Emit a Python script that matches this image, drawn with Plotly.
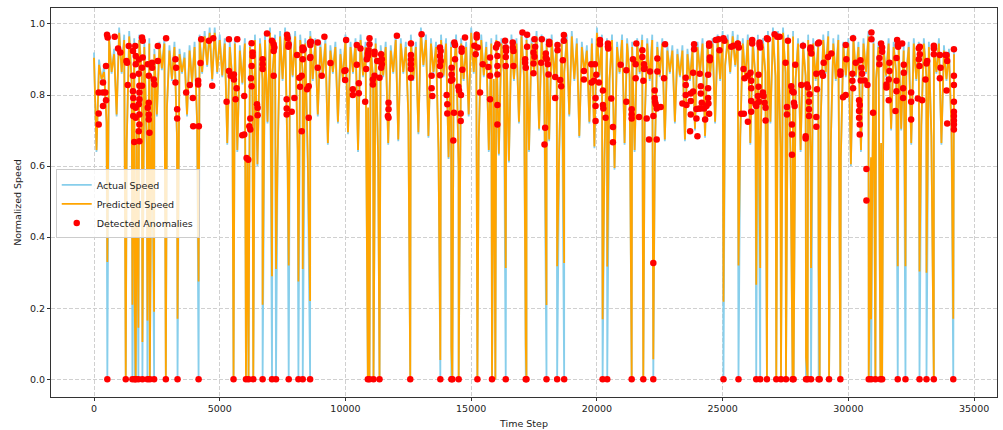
import plotly.graph_objects as go

# ---------------- data ----------------
sample_step = 100  # time steps between the sampled readings below

actual_speed = [
    0.92, 0.64, 0.90, 0.84, 0.88, 0.72, 0.97, 0.86, 0.93, 0.74,
    0.99, 0.86, 0.97, 0.66, 0.98, 0.83, 0.96, 0.70, 0.97, 0.85,
    0.95, 0.66, 0.96, 0.85, 0.93, 0.74, 0.95, 0.87, 0.96, 0.76,
    0.94, 0.84, 0.95, 0.68, 0.93, 0.86, 0.92, 0.74, 0.94, 0.83,
    0.95, 0.72, 0.97, 0.86, 0.98, 0.88, 0.99, 0.84, 0.99, 0.86,
    0.97, 0.85, 0.96, 0.66, 0.95, 0.84, 0.96, 0.64, 0.94, 0.83,
    0.96, 0.62, 0.95, 0.85, 0.97, 0.60, 0.96, 0.84, 0.97, 0.72,
    0.99, 0.86, 0.97, 0.61, 0.98, 0.84, 0.99, 0.60, 0.97, 0.85,
    0.98, 0.64, 0.97, 0.86, 0.96, 0.62, 0.98, 0.84, 0.96, 0.74,
    0.95, 0.85, 0.96, 0.66, 0.94, 0.86, 0.95, 0.72, 0.93, 0.84,
    0.97, 0.69, 0.95, 0.86, 0.96, 0.64, 0.97, 0.85, 0.95, 0.76,
    0.95, 0.84, 0.96, 0.62, 0.94, 0.85, 0.95, 0.66, 0.94, 0.86,
    0.97, 0.67, 0.96, 0.86, 0.95, 0.74, 0.97, 0.84, 0.95, 0.69,
    0.99, 0.88, 0.97, 0.68, 0.96, 0.86, 0.95, 0.64, 0.97, 0.85,
    0.96, 0.62, 0.95, 0.85, 0.97, 0.59, 0.96, 0.84, 0.95, 0.74,
    0.99, 0.86, 0.98, 0.67, 0.97, 0.85, 0.95, 0.64, 0.96, 0.84,
    0.97, 0.63, 0.96, 0.86, 0.95, 0.61, 0.97, 0.84, 0.96, 0.72,
    0.98, 0.85, 0.97, 0.64, 0.96, 0.86, 0.98, 0.70, 0.97, 0.84,
    0.96, 0.67, 0.97, 0.85, 0.95, 0.64, 0.96, 0.86, 0.97, 0.74,
    0.98, 0.84, 0.96, 0.68, 0.95, 0.86, 0.94, 0.72, 0.96, 0.65,
    0.99, 0.85, 0.97, 0.62, 0.96, 0.84, 0.97, 0.59, 0.95, 0.86,
    0.97, 0.66, 0.96, 0.85, 0.95, 0.64, 0.96, 0.86, 0.97, 0.72,
    0.96, 0.84, 0.97, 0.62, 0.95, 0.85, 0.96, 0.67, 0.94, 0.86,
    0.94, 0.72, 0.93, 0.85, 0.94, 0.67, 0.93, 0.84, 0.94, 0.70,
    0.95, 0.86, 0.96, 0.68, 0.95, 0.85, 0.96, 0.72, 0.97, 0.84,
    0.98, 0.88, 0.97, 0.86, 0.98, 0.88, 0.97, 0.68, 0.96, 0.84,
    0.97, 0.66, 0.96, 0.85, 0.97, 0.64, 0.96, 0.86, 0.98, 0.72,
    0.99, 0.85, 0.98, 0.65, 0.99, 0.86, 0.97, 0.63, 0.98, 0.84,
    0.96, 0.64, 0.95, 0.85, 0.97, 0.61, 0.96, 0.84, 0.95, 0.73,
    0.97, 0.86, 0.98, 0.66, 0.96, 0.84, 0.97, 0.62, 0.95, 0.85,
    0.96, 0.60, 0.97, 0.85, 0.95, 0.64, 0.96, 0.86, 0.98, 0.62,
    0.96, 0.84, 0.95, 0.66, 0.94, 0.85, 0.96, 0.70, 0.95, 0.86,
    0.95, 0.70, 0.94, 0.85, 0.95, 0.66, 0.96, 0.84, 0.95, 0.71,
    0.96, 0.85, 0.95, 0.68, 0.94, 0.86, 0.96, 0.66, 0.94, 0.84,
    0.93, 0.70, 0.93,
]

predicted_speed = [
    0.905, 0.645, 0.885, 0.845, 0.865, 0.725, 0.955, 0.865, 0.915, 0.745,
    0.975, 0.865, 0.955, 0.665, 0.965, 0.835, 0.945, 0.705, 0.955, 0.855,
    0.935, 0.665, 0.945, 0.855, 0.915, 0.745, 0.935, 0.875, 0.945, 0.765,
    0.925, 0.845, 0.935, 0.685, 0.915, 0.865, 0.905, 0.745, 0.925, 0.835,
    0.935, 0.725, 0.955, 0.865, 0.965, 0.885, 0.975, 0.845, 0.975, 0.865,
    0.955, 0.855, 0.945, 0.665, 0.935, 0.845, 0.945, 0.645, 0.925, 0.835,
    0.945, 0.625, 0.935, 0.855, 0.955, 0.605, 0.945, 0.845, 0.955, 0.725,
    0.975, 0.865, 0.955, 0.615, 0.965, 0.845, 0.975, 0.605, 0.955, 0.855,
    0.965, 0.645, 0.955, 0.865, 0.945, 0.625, 0.965, 0.845, 0.945, 0.745,
    0.935, 0.855, 0.945, 0.665, 0.925, 0.865, 0.935, 0.725, 0.915, 0.845,
    0.955, 0.695, 0.935, 0.865, 0.945, 0.645, 0.955, 0.855, 0.935, 0.765,
    0.935, 0.845, 0.945, 0.625, 0.925, 0.855, 0.935, 0.665, 0.925, 0.865,
    0.955, 0.675, 0.945, 0.865, 0.935, 0.745, 0.955, 0.845, 0.935, 0.695,
    0.975, 0.885, 0.955, 0.685, 0.945, 0.865, 0.935, 0.645, 0.955, 0.855,
    0.945, 0.625, 0.935, 0.855, 0.955, 0.595, 0.945, 0.845, 0.935, 0.745,
    0.975, 0.865, 0.965, 0.675, 0.955, 0.855, 0.935, 0.645, 0.945, 0.845,
    0.955, 0.635, 0.945, 0.865, 0.935, 0.615, 0.955, 0.845, 0.945, 0.725,
    0.965, 0.855, 0.955, 0.645, 0.945, 0.865, 0.965, 0.705, 0.955, 0.845,
    0.945, 0.675, 0.955, 0.855, 0.935, 0.645, 0.945, 0.865, 0.955, 0.745,
    0.965, 0.845, 0.945, 0.685, 0.935, 0.865, 0.925, 0.725, 0.945, 0.655,
    0.975, 0.855, 0.955, 0.625, 0.945, 0.845, 0.955, 0.595, 0.935, 0.865,
    0.955, 0.665, 0.945, 0.855, 0.935, 0.645, 0.945, 0.865, 0.955, 0.725,
    0.945, 0.845, 0.955, 0.625, 0.935, 0.855, 0.945, 0.675, 0.925, 0.865,
    0.925, 0.725, 0.915, 0.855, 0.925, 0.675, 0.915, 0.845, 0.925, 0.705,
    0.935, 0.865, 0.945, 0.685, 0.935, 0.855, 0.945, 0.725, 0.955, 0.845,
    0.965, 0.885, 0.955, 0.865, 0.965, 0.885, 0.955, 0.685, 0.945, 0.845,
    0.955, 0.665, 0.945, 0.855, 0.955, 0.645, 0.945, 0.865, 0.965, 0.725,
    0.975, 0.855, 0.965, 0.655, 0.975, 0.865, 0.955, 0.635, 0.965, 0.845,
    0.945, 0.645, 0.935, 0.855, 0.955, 0.615, 0.945, 0.845, 0.935, 0.735,
    0.955, 0.865, 0.965, 0.665, 0.945, 0.845, 0.955, 0.625, 0.935, 0.855,
    0.945, 0.605, 0.955, 0.855, 0.935, 0.645, 0.945, 0.865, 0.965, 0.625,
    0.945, 0.845, 0.935, 0.665, 0.925, 0.855, 0.945, 0.705, 0.935, 0.865,
    0.935, 0.705, 0.925, 0.855, 0.935, 0.665, 0.945, 0.845, 0.935, 0.715,
    0.945, 0.855, 0.935, 0.685, 0.925, 0.865, 0.945, 0.665, 0.925, 0.845,
    0.915, 0.705, 0.915,
]

# moments where the actual speed falls to zero, and the prediction there
drop_steps = [
    530, 1263, 1527, 1622, 1660, 1766, 1925, 2124, 2220, 2390, 2857, 3322, 4159,
    5549, 6043, 6147, 6334, 6705, 7079, 7238, 7743, 8129, 8301, 8594,
    10890, 10956, 11115, 11354, 12577, 13773, 14211, 14251, 14502, 15247, 15828,
    15962, 16374, 17170, 17198, 17995, 18418, 18697, 20226, 20410, 21382, 21844,
    22242, 25032, 25630, 26335, 26494, 26761, 27132, 27319, 27518, 27781, 27821,
    28315, 28379, 28514, 28817, 28857, 29231, 29681, 30809, 30904, 31075, 31274,
    31342, 31963, 32270, 32828, 33106, 33397, 34171,
]
drop_predicted = [
    0.33, 0.0, 0.21, 0.19, 0.0, 0.145, 0.105, 0.165, 0.0, 0.19, 0.0, 0.17, 0.275,
    0.0, 0.0, 0.0, 0.0, 0.21, 0.29, 0.31, 0.32, 0.275, 0.31, 0.22,
    0.0, 0.0, 0.0, 0.0, 0.0, 0.054, 0.09, 0.0, 0.0, 0.0, 0.0,
    0.0, 0.313, 0.096, 0.0, 0.209, 0.318, 0.327, 0.169, 0.317, 0.0, 0.0,
    0.056, 0.218, 0.32, 0.266, 0.313, 0.0, 0.0, 0.0, 0.0, 0.0, 0.0,
    0.061, 0.0, 0.313, 0.315, 0.0, 0.0, 0.0, 0.0, 0.169, 0.0, 0.0,
    0.0, 0.318, 0.318, 0.303, 0.30, 0.0, 0.17,
]

zero_anomaly_steps = [
    530, 1263, 1527, 1622, 1660, 1766, 1925, 2124, 2220, 2390, 2857, 3322, 4159,
    5549, 6043, 6147, 6334, 6705, 7079, 7238, 7743, 8129, 8301, 8594,
    10890, 10956, 11115, 11354, 12577, 13773, 14211, 14251, 14502, 15247, 15828,
    16374, 17170, 17198, 17995, 18418, 18697, 20226, 20410, 21382, 21844,
    22242, 25032, 25630, 26335, 26494, 26761, 27132, 27319, 27518, 27781, 27821,
    28315, 28379, 28514, 28817, 28857, 29231, 29681, 30809, 30904, 31075, 31274,
    31342, 31963, 32270, 32828, 33106, 33397, 34171,
]

anomaly_points = [
    (186, 0.807), (186, 0.748), (186, 0.717), (358, 0.835), (358, 0.807), (358, 0.769),
    (451, 0.807), (478, 0.785), (478, 0.882), (518, 0.97), (545, 0.962), (823, 0.964),
    (956, 0.931), (1049, 0.92), (1290, 0.896), (1315, 0.891), (1381, 0.938), (1341, 0.828),
    (1550, 0.924), (1550, 0.854), (1550, 0.811), (1560, 0.792), (1560, 0.769), (1560, 0.741),
    (1600, 0.668), (1640, 0.938), (1660, 0.91), (1660, 0.887), (1660, 0.764), (1660, 0.736),
    (1780, 0.9), (1780, 0.86), (1805, 0.826), (1805, 0.807), (1805, 0.788), (1780, 0.774),
    (1805, 0.745), (1805, 0.717), (1780, 0.698), (1805, 0.67), (1910, 0.962), (1937, 0.953),
    (1937, 0.906), (1910, 0.877), (1910, 0.826), (2138, 0.887), (2178, 0.854), (2178, 0.778),
    (2138, 0.764), (2178, 0.745), (2178, 0.731), (2205, 0.694), (2310, 0.891), (2310, 0.877),
    (2377, 0.844), (2403, 0.83), (2537, 0.938), (2537, 0.896), (2868, 0.96), (3240, 0.901),
    (3267, 0.877), (3240, 0.835), (3307, 0.76), (3307, 0.734), (3665, 0.807), (3811, 0.828),
    (3931, 0.792), (3944, 0.712), (4170, 0.712), (4143, 0.83), (4143, 0.84), (4236, 0.89),
    (4263, 0.957), (4568, 0.953), (4741, 0.96), (4701, 0.826), (5365, 0.957), (5697, 0.957),
    (5365, 0.868), (5431, 0.854), (5564, 0.858), (5564, 0.844), (5670, 0.819), (5630, 0.788),
    (5272, 0.781), (5896, 0.687), (6068, 0.623),
    (5976, 0.797), (5976, 0.689), (6135, 0.618), (6175, 0.712), (6215, 0.703), (6215, 0.734),
    (6242, 0.847), (6268, 0.825), (6268, 0.882), (6308, 0.92), (6308, 0.91), (6268, 0.946),
    (6480, 0.774), (6507, 0.764), (6507, 0.743), (6706, 0.901), (6706, 0.887), (6706, 0.873),
    (6880, 0.973), (7078, 0.953), (7145, 0.943), (7145, 0.924), (7171, 0.934), (7145, 0.854),
    (7676, 0.97), (7702, 0.96), (7742, 0.943), (7729, 0.936), (7662, 0.788), (7662, 0.762),
    (7662, 0.745), (7862, 0.753), (7968, 0.792), (8074, 0.913), (8167, 0.849), (8194, 0.823),
    (8260, 0.854), (8300, 0.901), (8300, 0.934), (8300, 0.926), (8340, 0.929), (8260, 0.698),
    (8473, 0.816), (8539, 0.825), (8539, 0.736), (8592, 0.948), (8605, 0.941), (8605, 0.907),
    (8592, 0.904), (8632, 0.95), (8898, 0.948), (8898, 0.877), (9057, 0.854), (9163, 0.964),
    (9402, 0.89), (9960, 0.868), (9987, 0.842), (10026, 0.955), (10000, 0.87), (10292, 0.816),
    (10292, 0.8), (10451, 0.941), (10597, 0.931), (10451, 0.885), (10531, 0.833), (10531, 0.805),
    (10784, 0.781), (10823, 0.873), (10850, 0.901), (10890, 0.917), (10890, 0.91), (10916, 0.926),
    (10956, 0.96), (10956, 0.943), (11089, 0.844), (11089, 0.83), (11155, 0.922), (11155, 0.915),
    (11155, 0.854), (11261, 0.896), (11314, 0.896), (11354, 0.849), (11420, 0.915), (11447, 0.901),
    (11447, 0.887), (11420, 0.877), (11713, 0.778), (11713, 0.76), (11686, 0.741), (11713, 0.736),
    (12045, 0.967),
    (12603, 0.945), (12603, 0.913), (12603, 0.9), (12603, 0.887), (12603, 0.873), (12603, 0.849),
    (13028, 0.971), (13426, 0.854), (13426, 0.819), (13453, 0.797), (13758, 0.934), (13785, 0.924),
    (13758, 0.91), (13785, 0.896), (13758, 0.882), (13758, 0.856), (14024, 0.8), (14050, 0.774),
    (14050, 0.748), (14223, 0.877), (14223, 0.858), (14250, 0.844), (14196, 0.84), (14289, 0.672),
    (14329, 0.948), (14356, 0.941), (14356, 0.901), (14316, 0.75), (14489, 0.823), (14515, 0.813),
    (14595, 0.8), (14582, 0.748), (14582, 0.727), (14621, 0.931), (14621, 0.922), (14648, 0.871),
    (14754, 0.962), (15126, 0.939), (15219, 0.97), (15219, 0.962), (15259, 0.934), (15179, 0.915),
    (15352, 0.807), (15458, 0.887), (15684, 0.879), (15750, 0.906), (15750, 0.854), (15750, 0.788),
    (15989, 0.934), (16042, 0.943), (16042, 0.91), (16042, 0.882), (16042, 0.858), (16042, 0.772),
    (16042, 0.717), (16348, 0.953), (16374, 0.934), (16387, 0.924), (16374, 0.907), (16374, 0.882),
    (16653, 0.948), (16653, 0.934), (16680, 0.924), (16680, 0.882), (17038, 0.976), (17224, 0.97),
    (17224, 0.936), (17145, 0.901), (17145, 0.891), (17171, 0.877), (17477, 0.92), (17516, 0.957),
    (17516, 0.908), (17477, 0.889), (17477, 0.861), (17543, 0.936), (17808, 0.957), (17782, 0.891),
    (17968, 0.917), (17968, 0.906), (18008, 0.901), (18048, 0.887), (18074, 0.858), (17941, 0.708),
    (17915, 0.661), (18100, 0.95), (18100, 0.943), (18340, 0.851), (18340, 0.792), (18433, 0.941),
    (18433, 0.926), (18539, 0.842), (18579, 0.825),
    (18685, 0.969), (18685, 0.953), (18645, 0.898), (19482, 0.868), (19482, 0.844), (19774, 0.887),
    (19920, 0.887), (19787, 0.835), (19880, 0.84), (19973, 0.857), (20080, 0.835), (19947, 0.792),
    (19947, 0.769), (19947, 0.727), (20120, 0.955), (20120, 0.943), (20239, 0.813), (20239, 0.772),
    (20253, 0.762), (20345, 0.736), (20438, 0.945), (20438, 0.936), (20451, 0.931), (20571, 0.79),
    (20637, 0.71), (20637, 0.667), (20943, 0.885), (21169, 0.87), (21169, 0.781), (21381, 0.76),
    (21381, 0.745), (21381, 0.734), (21434, 0.901), (21540, 0.887), (21540, 0.847), (21567, 0.945),
    (21673, 0.738), (21806, 0.926), (21806, 0.907), (21846, 0.84), (21873, 0.887), (21873, 0.873),
    (21899, 0.877), (21979, 0.734), (22072, 0.675), (22111, 0.866), (22244, 0.741), (22297, 0.813),
    (22297, 0.792), (22337, 0.774), (22310, 0.781), (22377, 0.762), (22537, 0.766), (22377, 0.675),
    (22403, 0.903), (22403, 0.866), (22669, 0.847), (22709, 0.943), (22242, 0.327),
    (23400, 0.776), (23532, 0.849), (23532, 0.828), (23532, 0.8), (23559, 0.772), (23732, 0.804),
    (23732, 0.783), (23825, 0.81), (23732, 0.745), (23705, 0.698), (23825, 0.863), (23864, 0.943),
    (23864, 0.929), (23957, 0.761), (23957, 0.734), (23997, 0.684), (24064, 0.762), (24130, 0.762),
    (24170, 0.778), (24130, 0.804), (24130, 0.825), (24090, 0.86), (24263, 0.762), (24303, 0.731),
    (24356, 0.769), (24422, 0.857), (24422, 0.819), (24422, 0.792), (24435, 0.776), (24462, 0.747),
    (24462, 0.945), (24462, 0.939), (24489, 0.906), (24489, 0.898), (24728, 0.955), (24834, 0.957),
    (24874, 0.926), (25033, 0.96), (25073, 0.953), (25339, 0.936), (25432, 0.939), (25604, 0.945),
    (25644, 0.934), (25830, 0.873), (25870, 0.847), (26003, 0.854), (26109, 0.863), (26135, 0.84),
    (26135, 0.819), (26135, 0.783), (26135, 0.753), (26003, 0.725), (25737, 0.747), (25843, 0.747),
    (26308, 0.774), (26441, 0.781), (26401, 0.797), (26335, 0.769), (26428, 0.857), (26428, 0.823),
    (26175, 0.955), (26175, 0.945), (26467, 0.948), (26494, 0.934), (26467, 0.941), (26600, 0.807),
    (26627, 0.797), (26667, 0.778), (26706, 0.764), (26706, 0.728), (26760, 0.96), (26800, 0.957),
    (27065, 0.971), (27171, 0.964), (27264, 0.964), (27503, 0.891), (27556, 0.766), (27556, 0.745),
    (27596, 0.953), (27729, 0.825), (27769, 0.811), (27822, 0.807), (27835, 0.778), (27862, 0.769),
    (27756, 0.717), (27756, 0.689), (27756, 0.632), (27888, 0.885), (28127, 0.828), (28194, 0.939),
    (28300, 0.684), (28300, 0.678), (28353, 0.83), (28393, 0.821), (28459, 0.802), (28433, 0.781),
    (28433, 0.76), (28433, 0.741), (28486, 0.929), (28525, 0.917), (28499, 0.934), (28725, 0.86),
    (28751, 0.816), (28725, 0.738), (28725, 0.711), (28791, 0.945), (28831, 0.948), (28950, 0.863),
    (28990, 0.854), (29017, 0.891), (29190, 0.907), (29322, 0.917), (29681, 0.866), (29681, 0.857),
    (29787, 0.794), (29894, 0.8), (29894, 0.941), (29920, 0.901), (30159, 0.86), (30159, 0.84),
    (30186, 0.819), (30186, 0.96), (30292, 0.891), (30478, 0.898), (30518, 0.877), (30544, 0.86),
    (30491, 0.841), (30651, 0.841), (30757, 0.828), (30425, 0.785), (30452, 0.772), (30425, 0.755),
    (30425, 0.736), (30452, 0.717), (30452, 0.689), (30717, 0.592), (30717, 0.503), (30916, 0.976),
    (30916, 0.957), (30982, 0.75),
    (31301, 0.945), (31340, 0.934), (31340, 0.922), (31234, 0.904), (31234, 0.887), (31513, 0.83),
    (31513, 0.821), (31606, 0.844), (31633, 0.868), (31633, 0.891), (31606, 0.785), (31872, 0.755),
    (31912, 0.904), (31912, 0.84), (31912, 0.811), (31938, 0.955), (31965, 0.941), (31978, 0.936),
    (32137, 0.945), (32204, 0.885), (32204, 0.863), (32177, 0.819), (32177, 0.792), (32496, 0.807),
    (32496, 0.781), (32496, 0.731), (32801, 0.901), (32828, 0.882), (32801, 0.932), (32841, 0.936),
    (32841, 0.915), (32762, 0.79), (32934, 0.785), (33067, 0.844), (33107, 0.889), (33133, 0.896),
    (33399, 0.939), (33399, 0.931), (33399, 0.915), (33638, 0.913), (33665, 0.877), (33638, 0.847),
    (33864, 0.913), (33930, 0.896), (33904, 0.913), (33904, 0.813), (33930, 0.72), (34196, 0.929),
    (34196, 0.854), (34196, 0.828), (34196, 0.781), (34196, 0.753), (34196, 0.741), (34196, 0.728),
    (34196, 0.717), (34196, 0.703),
]

x_ticks = [0, 5000, 10000, 15000, 20000, 25000, 30000, 35000]
y_ticks = [0.0, 0.2, 0.4, 0.6, 0.8, 1.0]

# ---------------- assemble series ----------------
n = min(len(actual_speed), len(predicted_speed))
time_steps = [i * sample_step for i in range(n)]
rows = list(zip(time_steps, actual_speed[:n], predicted_speed[:n]))
rows += [(t, 0.0, p) for t, p in zip(drop_steps, drop_predicted)]
rows.sort(key=lambda r: r[0])
ts = [r[0] for r in rows]
act = [r[1] for r in rows]
pred = [r[2] for r in rows]

an_t = [p[0] for p in anomaly_points] + zero_anomaly_steps
an_v = [p[1] for p in anomaly_points] + [0.0] * len(zero_anomaly_steps)

FONT = "DejaVu Sans"
TXT = "#222222"

fig = go.Figure()
fig.add_trace(go.Scatter(x=ts, y=act, mode="lines", name="Actual Speed",
                         line=dict(color="#87CEEB", width=1.8, simplify=False)))
fig.add_trace(go.Scatter(x=ts, y=pred, mode="lines", name="Predicted Speed",
                         line=dict(color="#FFA500", width=1.8, simplify=False)))
fig.add_trace(go.Scatter(x=an_t, y=an_v, mode="markers", name="Detected Anomalies",
                         marker=dict(color="#FF0000", size=6.5, line=dict(width=0))))

axis_common = dict(
    showline=True, mirror=True, linecolor="#333333", linewidth=1,
    ticks="outside", ticklen=3, tickwidth=1, tickcolor="#333333",
    showgrid=True, gridcolor="#d0d0d0", gridwidth=0.8, griddash="4px,2px",
    zeroline=False,
    tickfont=dict(family=FONT, size=9.5, color=TXT),
)

fig.update_xaxes(range=[-1710, 35910], tickvals=x_ticks, tickformat="d",
                 title=dict(text="Time Step", font=dict(family=FONT, size=9.5, color=TXT),
                            standoff=6),
                 automargin=False, **axis_common)
fig.update_yaxes(range=[-0.05, 1.045], tickvals=y_ticks, tickformat=".1f",
                 title=dict(text="Normalized Speed", font=dict(family=FONT, size=9.5, color=TXT),
                            standoff=6),
                 automargin=False, **axis_common)

fig.update_layout(
    width=1003, height=430,
    margin=dict(l=51, r=6, t=8, b=33),
    plot_bgcolor="white", paper_bgcolor="white",
    font=dict(family=FONT, size=9.5, color=TXT),
    legend=dict(x=0.005, y=0.585, xanchor="left", yanchor="top",
                bgcolor="rgba(255,255,255,0.8)", bordercolor="#cccccc", borderwidth=1,
                font=dict(family=FONT, size=9.5, color=TXT),
                itemwidth=30, tracegroupgap=0),
    showlegend=True,
)

fig.write_html("out.html")
